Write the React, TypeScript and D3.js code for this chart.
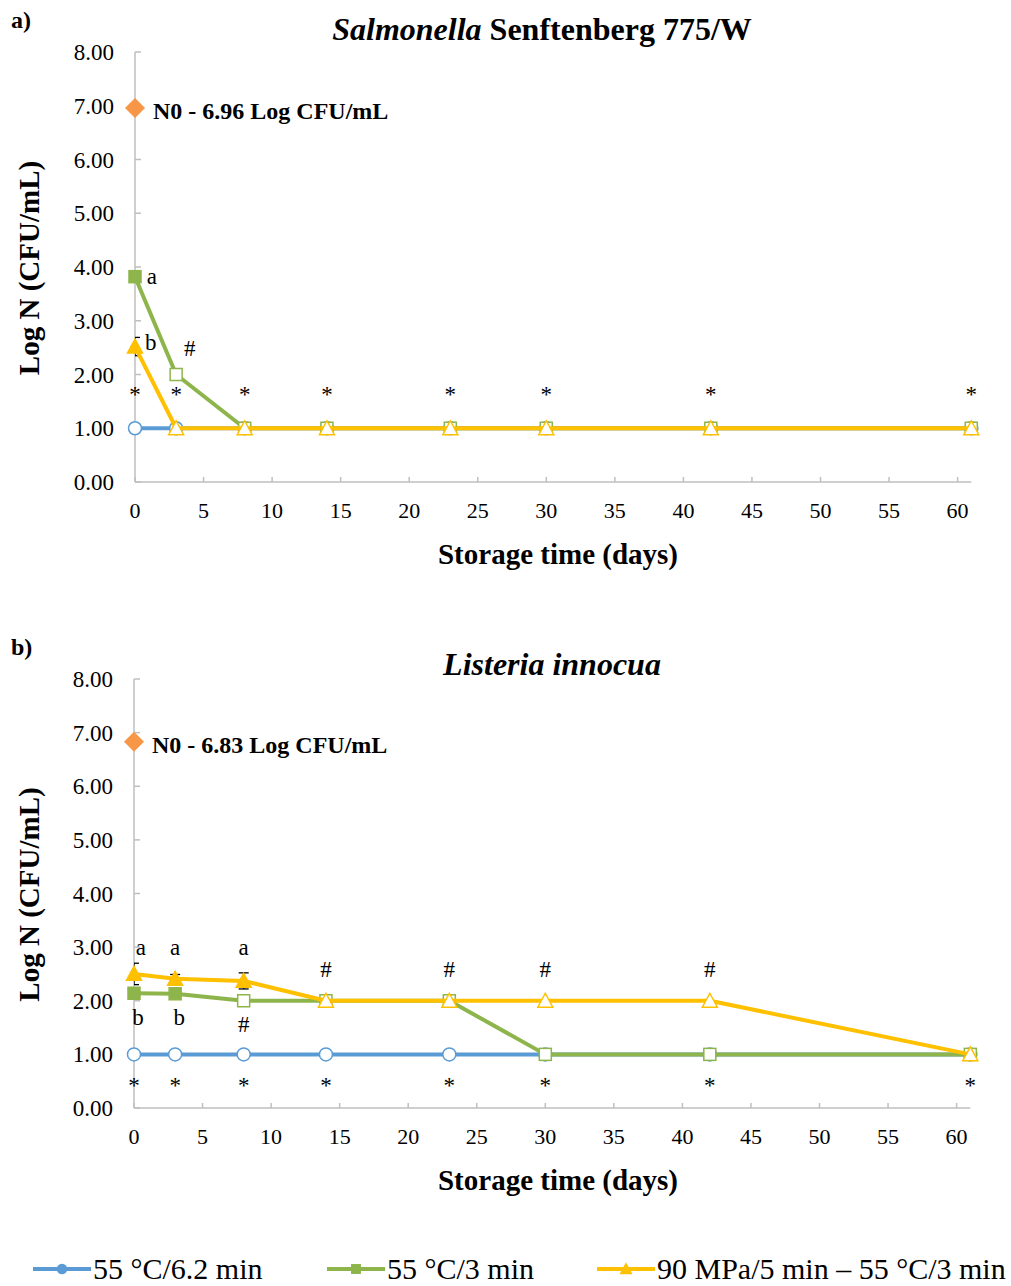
import React from "react";
import * as d3 from "d3";

const days = [0, 3, 8, 14, 23, 30, 42, 61];
const xTicks = [0, 5, 10, 15, 20, 25, 30, 35, 40, 45, 50, 55, 60];
const yTicks = [0, 1, 2, 3, 4, 5, 6, 7, 8];
const seriesNames = ["55 °C/6.2 min", "55 °C/3 min", "90 MPa/5 min – 55 °C/3 min"];

// Panel a – Salmonella
const aBlue = [1, 1, 1, 1, 1, 1, 1, 1];
const aBlueFilled = [false, false, false, false, false, false, false, false];
const aGreen = [3.82, 2.0, 1, 1, 1, 1, 1, 1];
const aGreenFilled = [true, false, false, false, false, false, false, false];
const aYellow = [2.52, 1, 1, 1, 1, 1, 1, 1];
const aYellowFilled = [true, false, false, false, false, false, false, false];
const aYellowErr = [0.17, 0, 0, 0, 0, 0, 0, 0];
const aN0 = 6.96;
// annotations: [day, value, text, anchor]
const aNotes: [number, number, string, string][] = [
  [0.85, 3.68, "a", "start"],
  [0.73, 2.46, "b", "start"],
  [4, 2.34, "#", "middle"],
  ...days.map((d) => [d, 1.48, "*", "middle"] as [number, number, string, string]),
];

// Panel b – Listeria
const bBlue = [1, 1, 1, 1, 1, 1, 1, 1];
const bBlueFilled = [false, false, false, false, false, false, false, false];
const bGreen = [2.14, 2.13, 2.0, 2.0, 2.0, 1, 1, 1];
const bGreenFilled = [true, true, false, false, false, false, false, false];
const bYellow = [2.5, 2.41, 2.37, 2.0, 2.0, 2.0, 2.0, 1];
const bYellowFilled = [true, true, true, false, false, false, false, false];
const bYellowErr = [0.2, 0.08, 0.15, 0, 0, 0, 0, 0];
const bN0 = 6.83;
const bNotes: [number, number, string, string][] = [
  [0.5, 2.85, "a", "middle"],
  [3, 2.85, "a", "middle"],
  [8, 2.85, "a", "middle"],
  [0.3, 1.55, "b", "middle"],
  [3.3, 1.55, "b", "middle"],
  [8, 1.42, "#", "middle"],
  [14, 2.45, "#", "middle"],
  [23, 2.45, "#", "middle"],
  [30, 2.45, "#", "middle"],
  [42, 2.45, "#", "middle"],
  ...days.map((d) => [d, 0.28, "*", "middle"] as [number, number, string, string]),
];

const BLUE = "#5b9bd5";
const GREEN = "#8db54b";
const YELLOW = "#ffc000";
const ORANGE = "#f79646";
const AXIS = "#bfbfbf";
const FONT = "'Liberation Serif', 'Times New Roman', serif";

type Marker = "circle" | "square" | "triangle";

function MarkerShape({ type, x, y, color, filled, scale = 1 }: { type: Marker; x: number; y: number; color: string; filled: boolean; scale?: number }) {
  const fill = filled ? color : "#ffffff";
  if (type === "circle") return <circle cx={x} cy={y} r={6.5 * scale} fill={fill} stroke={color} strokeWidth={1.5} />;
  if (type === "square") {
    const s = 12 * scale;
    return <rect x={x - s / 2} y={y - s / 2} width={s} height={s} fill={fill} stroke={color} strokeWidth={1.5} />;
  }
  const h = 7.5 * scale;
  return <path d={`M${x},${y - h} L${x + h},${y + h * 0.85} L${x - h},${y + h * 0.85} Z`} fill={fill} stroke={color} strokeWidth={1.5} />;
}

interface PanelProps {
  top: number; // y of 8.00
  bottom: number; // y of 0.00
  left: number;
  label: string;
  title: React.ReactNode;
  titleX: number;
  titleY: number;
  blue: number[]; blueF: boolean[];
  green: number[]; greenF: boolean[];
  yellow: number[]; yellowF: boolean[];
  yellowErr: number[];
  n0: number;
  notes: [number, number, string, string][];
  id: string;
}

function Panel(p: PanelProps) {
  const x = d3.scaleLinear().domain([0, 61]).range([p.left, p.left + 61 * 13.71]);
  const y = d3.scaleLinear().domain([0, 8]).range([p.bottom, p.top]);
  const line = d3.line<[number, number]>().x((d) => x(d[0])).y((d) => y(d[1]));
  const series: { v: number[]; f: boolean[]; c: string; m: Marker }[] = [
    { v: p.blue, f: p.blueF, c: BLUE, m: "circle" },
    { v: p.green, f: p.greenF, c: GREEN, m: "square" },
    { v: p.yellow, f: p.yellowF, c: YELLOW, m: "triangle" },
  ];
  const [x0, x1] = x.range();
  return (
    <g>
      <defs>
        <clipPath id={`clip-${p.id}`}>
          <rect x={x0} y={p.top - 20} width={x1 - x0 + 20} height={p.bottom - p.top + 20} />
        </clipPath>
      </defs>
      <text x={11} y={p.top - 24} fontSize={24} fontWeight="bold" fontFamily={FONT}>{p.label}</text>
      <text x={p.titleX} y={p.titleY} fontSize={32} fontWeight="bold" textAnchor="middle" fontFamily={FONT}>{p.title}</text>
      {/* axes */}
      <line x1={x0} x2={x0} y1={p.top} y2={p.bottom} stroke={AXIS} strokeWidth={1.5} />
      <line x1={x0} x2={x1} y1={p.bottom} y2={p.bottom} stroke={AXIS} strokeWidth={1.5} />
      {yTicks.map((t) => (
        <g key={`y${t}`}>
          <line x1={x0} x2={x0 + 6} y1={y(t)} y2={y(t)} stroke={AXIS} strokeWidth={1.5} />
          <text x={x0 - 21} y={y(t) + 8} fontSize={23} textAnchor="end" fontFamily={FONT}>{t.toFixed(2)}</text>
        </g>
      ))}
      {xTicks.map((t) => (
        <g key={`x${t}`}>
          <line x1={x(t)} x2={x(t)} y1={p.bottom} y2={p.bottom - 5} stroke={AXIS} strokeWidth={1.5} />
          <text x={x(t)} y={p.bottom + 36} fontSize={22} textAnchor="middle" fontFamily={FONT}>{t}</text>
        </g>
      ))}
      <text x={558} y={p.bottom + 82} fontSize={29} fontWeight="bold" textAnchor="middle" fontFamily={FONT}>Storage time (days)</text>
      <text transform={`translate(39,${(p.top + p.bottom) / 2 + 1}) rotate(-90)`} fontSize={29} fontWeight="bold" textAnchor="middle" fontFamily={FONT}>Log N (CFU/mL)</text>
      {/* N0 */}
      <path d={`M${x(0)},${y(p.n0) - 10} L${x(0) + 10},${y(p.n0)} L${x(0)},${y(p.n0) + 10} L${x(0) - 10},${y(p.n0)} Z`} fill={ORANGE} />
      <text x={x(0) + 18} y={y(p.n0) + 11} fontSize={24} fontWeight="bold" fontFamily={FONT}>{`N0 - ${p.n0.toFixed(2)} Log CFU/mL`}</text>
      {/* error bars */}
      <g clipPath={`url(#clip-${p.id})`}>
        {p.yellowErr.map((e, i) =>
          e > 0 ? (
            <g key={`e${i}`} stroke="#000" strokeWidth={1.3}>
              <line x1={x(days[i])} x2={x(days[i])} y1={y(p.yellow[i] + e)} y2={y(p.yellow[i] - e)} />
              <line x1={x(days[i]) - 5} x2={x(days[i]) + 5} y1={y(p.yellow[i] + e)} y2={y(p.yellow[i] + e)} />
              <line x1={x(days[i]) - 5} x2={x(days[i]) + 5} y1={y(p.yellow[i] - e)} y2={y(p.yellow[i] - e)} />
            </g>
          ) : null
        )}
      </g>
      {series.map((s, si) => (
        <g key={`s${si}`}>
          <path d={line(days.map((d, i) => [d, s.v[i]] as [number, number])) || ""} fill="none" stroke={s.c} strokeWidth={4} strokeLinejoin="round" />
          {days.map((d, i) => (
            <MarkerShape key={i} type={s.m} x={x(d)} y={y(s.v[i])} color={s.c} filled={s.f[i]} />
          ))}
        </g>
      ))}
      {p.notes.map((n, i) => (
        <text key={`n${i}`} x={x(n[0])} y={y(n[1])} fontSize={23} textAnchor={n[3] as any} fontFamily={FONT}>{n[2]}</text>
      ))}
    </g>
  );
}

export default function App() {
  const legendX = [33, 327, 597];
  const legendColors = [BLUE, GREEN, YELLOW];
  const legendMarkers: Marker[] = ["circle", "square", "triangle"];
  return (
    <svg width={1011} height={1286} style={{ position: "absolute", left: 0, top: 0, background: "#fff" }} fontFamily={FONT}>
      <rect width={1011} height={1286} fill="#fff" />
      <Panel
        id="a" top={52} bottom={482} left={135} label="a)"
        titleX={542} titleY={40}
        title={<><tspan fontStyle="italic">Salmonella</tspan> Senftenberg 775/W</>}
        blue={aBlue} blueF={aBlueFilled} green={aGreen} greenF={aGreenFilled}
        yellow={aYellow} yellowF={aYellowFilled} yellowErr={aYellowErr} n0={aN0} notes={aNotes}
      />
      <Panel
        id="b" top={679} bottom={1108} left={134} label="b)"
        titleX={552} titleY={675}
        title={<tspan fontStyle="italic">Listeria innocua</tspan>}
        blue={bBlue} blueF={bBlueFilled} green={bGreen} greenF={bGreenFilled}
        yellow={bYellow} yellowF={bYellowFilled} yellowErr={bYellowErr} n0={bN0} notes={bNotes}
      />
      {seriesNames.map((name, i) => (
        <g key={name}>
          <line x1={legendX[i]} x2={legendX[i] + 58} y1={1269} y2={1269} stroke={legendColors[i]} strokeWidth={4} />
          <MarkerShape type={legendMarkers[i]} x={legendX[i] + 29} y={1269} color={legendColors[i]} filled={true} scale={0.7} />
          <text x={legendX[i] + 60} y={1279} fontSize={30} fontFamily={FONT}>{name}</text>
        </g>
      ))}
    </svg>
  );
}
